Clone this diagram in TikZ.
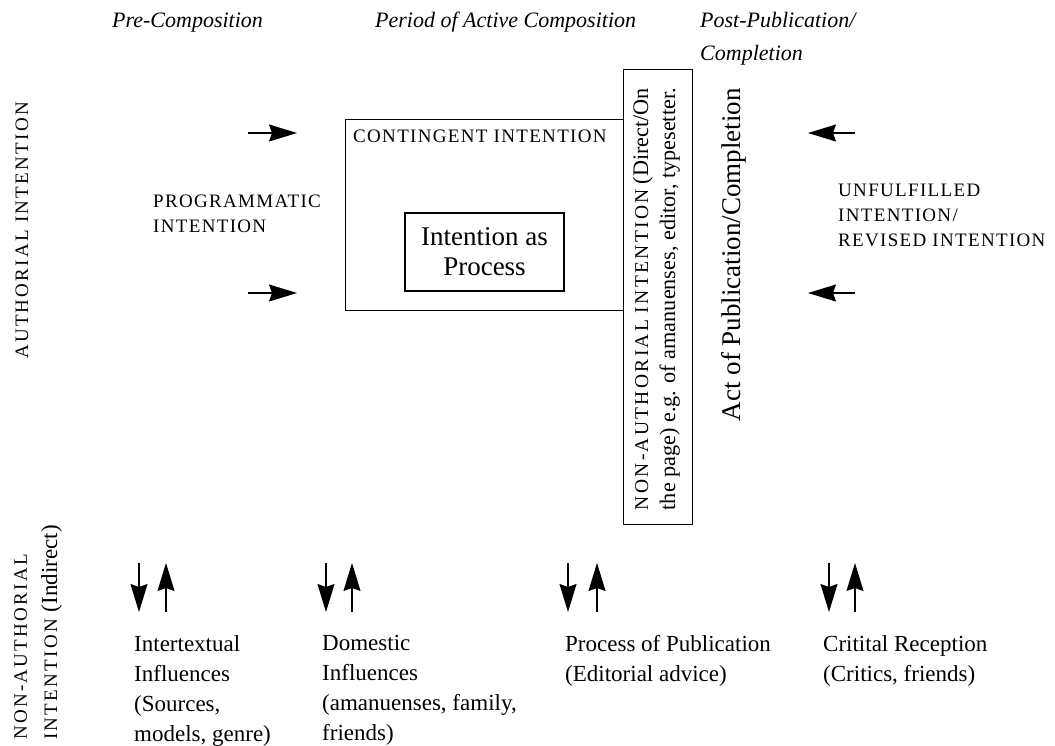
\documentclass[tikz,border=0pt]{standalone}
\usepackage{fontspec}
\setmainfont{Liberation Serif}
\newfontfamily\scfont[LetterSpace=7]{Liberation Serif}
\newfontfamily\scwide[LetterSpace=12]{Liberation Serif}
\usetikzlibrary{arrows.meta}
\newcommand\bodyfont{\rmfamily\fontsize{23}{30}\selectfont}
\newcommand\scf{\scfont\fontsize{19}{25}\selectfont}
\newcommand\scv{\scwide\fontsize{19}{25}\selectfont}
\newcommand\tallfont{\rmfamily\fontsize{22.2}{26}\selectfont}
\newcommand\tallsc{\scwide\fontsize{19.5}{26}\selectfont}
\tikzset{
  body/.style={font=\bodyfont, inner sep=0pt, align=left},
  sc/.style={font=\scf, inner sep=0pt, align=left},
  vsc/.style={font=\scv, inner sep=0pt, rotate=90},
  ital/.style={font=\itshape\fontsize{22}{33}\selectfont, inner sep=0pt},
  big/.style={font=\fontsize{27}{30}\selectfont, inner sep=0pt},
  box/.style={draw, line width=1.2pt},
  arr/.style={line width=1.2pt, -{Stealth[length=28pt,width=17pt,inset=3pt]}},
}
\begin{document}
\begin{tikzpicture}[x=1pt,y=-1pt]
\useasboundingbox (0,0) rectangle (1055,746);
% period headings
\node[ital, anchor=base west] (pre) at (112,28) {Pre-Composition};
\node[ital, anchor=base west] (period) at (375,28) {Period of Active Composition};
\node[ital, anchor=base west] (post1) at (700,28) {Post-Publication/};
\node[ital, anchor=base west] (post2) at (700,61) {Completion};
% left side labels
\node[vsc, anchor=base east] (auth) at (28,102) {AUTHORIAL INTENTION};
\node[vsc, anchor=base west] (na1) at (27,740) {NON-AUTHORIAL};
\node[vsc, anchor=base west] (na2) at (57,740) {INTENTION {\bodyfont (Indirect)}};
% programmatic
\coordinate (pa1) at (248,133); \coordinate (pb1) at (297,133);
\coordinate (pa2) at (248,293); \coordinate (pb2) at (297,293);
\draw[arr] (pa1) -- (pb1);
\draw[arr] (pa2) -- (pb2);
\node[sc, anchor=north west] (prog) at (153,195) {PROGRAMMATIC\\INTENTION};
% contingent box
\node[box, anchor=north west, minimum width=278pt, minimum height=191pt] (cont) at (345,119) {};
\node[sc, anchor=base west] (contl) at (353,143) {CONTINGENT INTENTION};
\node[box, big, align=center, minimum width=159pt, minimum height=78pt] (proc) at (484.5,252) {Intention as\\Process};
% tall box
\node[box, anchor=north west, minimum width=69pt, minimum height=455pt] (tall) at (623,69) {};
\node[rotate=90, anchor=base east, inner sep=0pt, font=\tallfont] (t1) at (648,88)
  {\makebox[422pt][s]{{\tallsc NON-AUTHORIAL INTENTION} (Direct/On}};
\node[rotate=90, anchor=base east, inner sep=0pt, font=\tallfont] (t2) at (675,88)
  {\makebox[422pt][s]{the page) e.g. of amanuenses, editor, typesetter.}};
\node[big, rotate=90, anchor=base east] (act) at (740,88) {Act of Publication/Completion};
% unfulfilled
\coordinate (ua1) at (855,133); \coordinate (ub1) at (808,133);
\coordinate (ua2) at (855,293); \coordinate (ub2) at (808,293);
\draw[arr] (ua1) -- (ub1);
\draw[arr] (ua2) -- (ub2);
\node[sc, anchor=north west] (unf) at (838,184) {UNFULFILLED\\INTENTION/\\REVISED INTENTION};
% bottom arrows
\foreach \n/\a/\b in {1/139/166, 2/326/352, 3/568/597, 4/829/855}{
  \coordinate (d\n t) at (\a,563); \coordinate (d\n b) at (\a,612);
  \coordinate (u\n t) at (\b,563); \coordinate (u\n b) at (\b,612);
  \draw[arr] (d\n t) -- (d\n b);
  \draw[arr] (u\n b) -- (u\n t);
}
% bottom texts
\node[body, anchor=north west] (inter) at (134,635) {Intertextual\\Influences\\(Sources,\\models, genre)};
\node[body, anchor=north west] (dom) at (322,635) {Domestic\\Influences\\(amanuenses, family,\\friends)};
\node[body, anchor=north west] (pub) at (565,635) {Process of Publication\\(Editorial advice)};
\node[body, anchor=north west] (crit) at (823,635) {Critital Reception\\(Critics, friends)};
\end{tikzpicture}
\end{document}
